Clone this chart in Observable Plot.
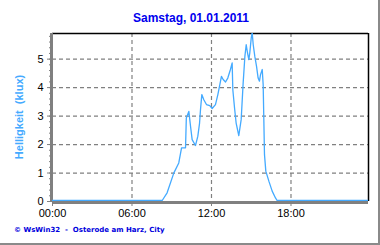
<!DOCTYPE html>
<html>
<head>
<meta charset="utf-8">
<script src="https://cdn.jsdelivr.net/npm/d3@7"></script>
<script src="https://cdn.jsdelivr.net/npm/@observablehq/plot@0.6"></script>
<style>
  html, body { margin: 0; padding: 0; background: #fff; }
  #wrap { position: relative; width: 380px; height: 245px; box-sizing: border-box;
          border-right: 2px solid #8a8a8a; border-bottom: 2px solid #8a8a8a; overflow: hidden; }
  #title { height: 25px; line-height: 14px; padding-top: 11px; text-align: center; font: bold 12px "Liberation Sans", Arial, sans-serif;
           color: #0000ee; box-sizing: border-box; padding-left: 4px; }
  #ylabel { position: absolute; left: 19px; top: 117px; transform: translate(-50%, -50%) rotate(-90deg);
            font: bold 11px "Liberation Sans", Arial, sans-serif; color: #44aaff; white-space: pre; }
  #footer { position: absolute; left: 14px; top: 226px; font: bold 7px "DejaVu Sans", "Liberation Sans", Arial, sans-serif;
            color: #0000dd; white-space: pre; }
  svg { display: block; }
</style>
</head>
<body>
<div id="wrap">
  <div id="title">Samstag, 01.01.2011</div>
  <div id="chart"></div>
  <div id="ylabel">Helligkeit  (klux)</div>
  <div id="footer">© WsWin32  -  Osterode am Harz, City</div>
</div>
<script>
// time of day in hours
const hours = [0, 8.28, 8.65, 9.16, 9.53, 9.74, 10.04, 10.1, 10.29, 10.42, 10.54, 10.79, 10.97, 11.1, 11.17, 11.27,
  11.42, 11.62, 11.87, 12.05, 12.3, 12.48, 12.63, 12.75, 12.88, 13.06, 13.23, 13.43, 13.56, 13.61, 13.74, 13.86,
  14.06, 14.24, 14.39, 14.52, 14.62, 14.72, 14.82, 14.89, 15.0, 15.07, 15.15, 15.27, 15.4, 15.52, 15.62, 15.7,
  15.83, 15.9, 15.95, 16.0, 16.1, 16.33, 16.58, 16.83, 16.95, 23.85];
// brightness in klux
const klux = [0, 0, 0.27, 0.97, 1.32, 1.85, 1.85, 2.9, 3.13, 2.6, 2.14, 1.93, 2.26, 2.72, 3.19, 3.72,
  3.54, 3.37, 3.33, 3.23, 3.37, 3.72, 4.07, 4.36, 4.25, 4.16, 4.3, 4.6, 4.83, 3.89, 3.25, 2.72,
  2.28, 2.84, 4.13, 5.06, 5.47, 5.18, 4.95, 5.18, 5.71, 5.9, 5.47, 5.06, 4.71, 4.3, 4.19, 4.42,
  4.6, 4.07, 2.84, 1.61, 1.03, 0.68, 0.33, 0.09, 0, 0];
const xTicks = [0, 6, 12, 18];
const xTickLabels = ["00:00", "06:00", "12:00", "18:00"];
const yTicks = [0, 1, 2, 3, 4, 5];

const data = hours.map((h, i) => ({h, v: klux[i]}));
const xMinor = d3.range(0, 23.85, 1.5);
const yMinor = d3.range(0, 5.91, 0.2);

const chart = Plot.plot({
  width: 378, height: 200,
  marginLeft: 52, marginRight: 10, marginTop: 8, marginBottom: 24,
  style: {fontFamily: "'Liberation Sans', Arial, sans-serif", fontSize: "11px", color: "#000", background: "transparent"},
  x: {domain: [0, 23.85], axis: null, label: null},
  y: {domain: [0, 5.9], axis: null, label: null},
  marks: [
    Plot.ruleX(xTicks.slice(1), {stroke: "#808080", strokeWidth: 1.2, strokeDasharray: "4,3", strokeOpacity: 1}),
    Plot.ruleY(yTicks.slice(1), {stroke: "#808080", strokeWidth: 1.2, strokeDasharray: "4,3", strokeOpacity: 1}),
    Plot.axisX(xMinor, {tickSize: 3, text: null, stroke: "#808080", anchor: "bottom", label: null}),
    Plot.axisX(xTicks, {tickSize: 5, stroke: "#808080", anchor: "bottom", tickPadding: 3, label: null,
      tickFormat: d => xTickLabels[xTicks.indexOf(d)], fontSize: 11, fill: "#000"}),
    Plot.axisY(yMinor, {tickSize: 3, text: null, stroke: "#808080", anchor: "left", label: null}),
    Plot.axisY(yTicks, {tickSize: 5, stroke: "#808080", anchor: "left", tickPadding: 4, fontSize: 11, fill: "#000", label: null}),
    Plot.ruleY([5.9], {stroke: "#000", strokeWidth: 1.5}),
    Plot.ruleX([23.85], {stroke: "#000", strokeWidth: 1.5}),
    Plot.ruleY([0], {stroke: "#808080", strokeWidth: 3, dy: 1}),
    Plot.ruleX([0], {stroke: "#808080", strokeWidth: 3, dx: -1}),
    Plot.line(data, {x: "h", y: "v", stroke: "#44aaff", strokeWidth: 1.3, dy: -1, clip: true})
  ]
});
document.getElementById("chart").appendChild(chart);
</script>
</body>
</html>
